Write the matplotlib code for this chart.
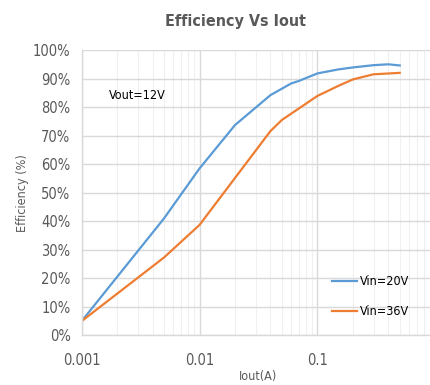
import matplotlib
matplotlib.use('Agg')
import matplotlib.pyplot as plt
import matplotlib.ticker as mtick

plt.rcParams['font.family'] = ['DejaVu Sans']
plt.rcParams['font.stretch'] = 'condensed'

iout_20 = [0.001, 0.005, 0.01, 0.02, 0.04, 0.06, 0.07, 0.1, 0.15, 0.2, 0.3, 0.4, 0.5]
eff_20 = [5.0, 41.0, 58.5, 73.7, 84.2, 88.3, 89.2, 91.8, 93.2, 93.9, 94.7, 95.0, 94.6]

iout_36 = [0.001, 0.005, 0.01, 0.04, 0.05, 0.1, 0.15, 0.2, 0.3, 0.5]
eff_36 = [5.0, 27.3, 38.7, 71.6, 75.5, 83.9, 87.4, 89.7, 91.5, 92.0]

yticks = list(range(0, 101, 10))
xticks = [0.001, 0.01, 0.1]
xticklabels = ['0.001', '0.01', '0.1']

gray = '#595959'

fig = plt.figure(figsize=(4.3, 3.85), dpi=100)
ax = fig.add_axes([0.19, 0.129, 0.822, 0.741])

ax.plot(iout_20, eff_20, color='#5B9BD5', linewidth=1.6, label='Vin=20V')
ax.plot(iout_36, eff_36, color='#ED7D31', linewidth=1.6, label='Vin=36V')

ax.set_xscale('log')
ax.set_xlim(0.001, 1)
ax.set_ylim(0, 100)
ax.set_yticks(yticks)
ax.yaxis.set_major_formatter(mtick.FuncFormatter(lambda v, p: '%d%%' % v))
ax.set_xticks(xticks)
ax.set_xticklabels(xticklabels)
ax.xaxis.set_minor_locator(mtick.LogLocator(base=10, subs=range(2, 10)))
ax.xaxis.set_minor_formatter(mtick.NullFormatter())

ax.grid(which='major', color='#D9D9D9', linewidth=1.0)
ax.grid(which='minor', axis='x', color='#F0F0F0', linewidth=0.8)
ax.set_axisbelow(True)

for s in ['top', 'right']:
    ax.spines[s].set_visible(False)
for s in ['left', 'bottom']:
    ax.spines[s].set_color('#D9D9D9')
    ax.spines[s].set_linewidth(1.0)

ax.tick_params(which='both', length=0, labelsize=10.5, colors=gray, pad=8)
ax.tick_params(axis='x', pad=13)

ax.set_title('Efficiency Vs Iout', fontsize=11.5, fontweight='bold', color=gray, pad=17, x=0.434)
ax.set_xlabel('Iout(A)', fontsize=9, color=gray, labelpad=1)
ax.set_ylabel('Efficiency (%)', fontsize=9, color=gray, labelpad=3)

ax.text(0.0017, 83, 'Vout=12V', fontsize=9, color='black')

leg = ax.legend(loc='lower right', bbox_to_anchor=(0.96, 0.02), frameon=False,
                fontsize=9, handlelength=2.0, labelspacing=1.4, handletextpad=0.3)
for t in leg.get_texts():
    t.set_color('black')

fig.savefig('out.png', dpi=100)
